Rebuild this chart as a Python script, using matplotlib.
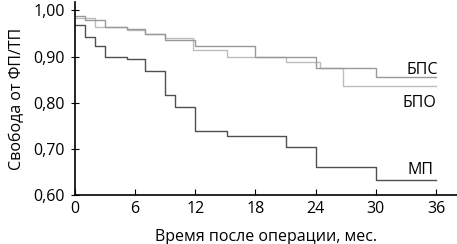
import matplotlib.pyplot as plt
import numpy as np

plt.rcParams['font.family'] = ['Open Sans', 'DejaVu Sans']

# Kaplan-Meier steps (month, survival)
mp_t = [0, 1, 2, 3, 5.2, 7, 9, 10, 12, 15.2, 21, 24, 30, 36]
mp_s = [0.969, 0.943, 0.924, 0.900, 0.894, 0.868, 0.816, 0.790, 0.738, 0.727, 0.703, 0.660, 0.632, 0.632]

bps_t = [0, 1, 3, 5.2, 7, 9, 12, 18, 24, 30, 36]
bps_s = [0.988, 0.979, 0.964, 0.959, 0.949, 0.937, 0.922, 0.900, 0.876, 0.856, 0.856]

bpo_t = [0, 2, 5.2, 7, 9, 11.8, 15.2, 21, 24.4, 26.7, 36]
bpo_s = [0.983, 0.965, 0.958, 0.950, 0.940, 0.915, 0.900, 0.889, 0.876, 0.836, 0.836]

x_ticks = [0, 6, 12, 18, 24, 30, 36]
y_ticks = [0.60, 0.70, 0.80, 0.90, 1.00]
y_labels = ['0,60', '0,70', '0,80', '0,90', '1,00']

fig = plt.figure(figsize=(4.57, 2.44), dpi=100)
ax = fig.add_axes([0.164, 0.201, 0.836, 0.79])

ax.step(bpo_t, bpo_s, where='post', color='#bdbdbd', lw=1.0)
ax.step(bps_t, bps_s, where='post', color='#999999', lw=1.0)
ax.step(mp_t, mp_s, where='post', color='#505050', lw=1.0)

ax.text(36.2, 0.872, 'БПС', ha='right', va='center', fontsize=11.5)
ax.text(36.0, 0.800, 'БПО', ha='right', va='center', fontsize=11.5)
ax.text(35.8, 0.655, 'МП', ha='right', va='center', fontsize=11.5)

ax.set_xlim(0, 38.1)
ax.set_ylim(0.6, 1.018)
ax.set_xticks(x_ticks)
ax.set_yticks(y_ticks)
ax.set_yticklabels(y_labels)
ax.tick_params(axis='x', direction='in', length=4, labelsize=11.5, pad=4)
ax.tick_params(axis='y', direction='inout', length=6, labelsize=11.5, pad=4)

for s in ['top', 'right']:
    ax.spines[s].set_visible(False)
ax.spines['left'].set_linewidth(1.2)
ax.spines['bottom'].set_linewidth(1.2)

ax.set_xlabel('Время после операции, мес.', fontsize=11.5, labelpad=9)
ax.set_ylabel('Свобода от ФП/ТП', fontsize=11.5, labelpad=6)

fig.savefig('out.png', dpi=100)
